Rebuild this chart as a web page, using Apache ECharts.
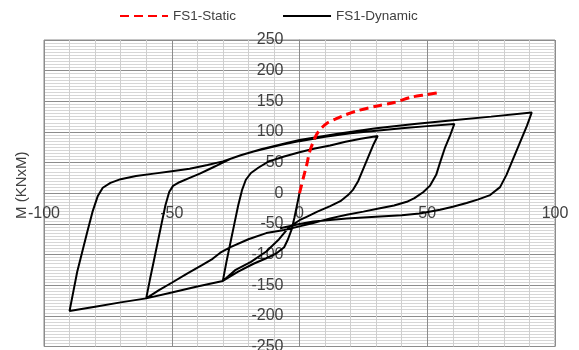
<!DOCTYPE html>
<html>
<head>
<meta charset="utf-8">
<script src="https://cdn.jsdelivr.net/npm/echarts@6/dist/echarts.min.js"></script>
<style>html,body{margin:0;padding:0;background:#fff;}#c{width:579px;height:350px;}</style>
</head>
<body>
<div id="c"></div>
<script>
const xTicks = [-100, -50, 0, 50, 100];
const yTicks = [-250, -200, -150, -100, -50, 0, 50, 100, 150, 200, 250];
const seriesNames = ['FS1-Static', 'FS1-Dynamic'];

const staticX = [0, 1.5, 2.8, 4, 5.5, 7, 9, 11, 14, 18, 23, 30, 37, 44, 50, 55.5];
const staticY = [0, 25, 46, 68, 85, 98, 108, 115, 121, 128, 135, 142, 148, 157, 161, 165];

const dynX = [
  0, -1, -2, -3, -4.5, -6, -9, -13, -18, -24, -30,
  -28.5, -27, -25.5, -24, -22.5, -21, -19, -16, -12, -6, 0, 6, 12, 18, 24, 30.6,
  29, 27, 25, 23, 21, 19, 16, 12, 7, 3, 0, -4, -8, -13, -19, -25, -30, -40, -50, -60,
  -58.5, -57, -55.5, -54, -52.5, -51, -49.5, -47, -43, -39, -35, -31, -27, -23, -18, -12, -7, 0, 10, 20, 30, 40, 50, 60.6,
  59, 57, 55, 53.5, 51, 48.5, 45, 42, 37, 31, 25, 18.5, 12, 5, 0, -6, -13, -20, -27, -31, -34, -38, -44, -50, -55, -60, -70, -80, -90,
  -88.5, -87, -85, -83, -81, -79, -77, -74, -70, -64, -57, -50, -43, -36, -30, -23, -15, -7, 0, 15, 30, 45, 60, 75, 90.9,
  89, 87, 85, 83, 81, 78.5, 74.6, 70, 65.4, 60, 55, 47, 40, 31.5, 18.5, 5.4, 0, -7.6
];
const dynY = [
  0, -20, -40, -58, -75, -88, -98, -106, -115, -128, -143,
  -110, -80, -50, -20, 5, 22, 33, 42, 52, 60, 67, 73, 78, 84, 89, 93.5,
  80, 60, 40, 20, 6, -3, -13, -21, -30, -38, -44, -55, -75, -95, -112, -125, -143, -152, -162, -171.5,
  -140, -110, -80, -50, -20, 2, 12, 18, 25, 32, 40, 48, 56, 62, 68, 74, 79, 85, 92, 98, 102, 106, 109.5, 113,
  95, 75, 50, 30, 12, 2, -8, -14, -20, -25, -30, -35, -41, -49, -54, -60, -65, -75, -88, -97, -107, -117, -131, -146, -158, -171.5, -178, -185, -192,
  -160, -128, -95, -62, -30, -5, 9, 17, 23, 28, 32, 36, 40, 46, 52, 62, 72, 80, 87, 97, 106, 113, 119, 125, 131.7,
  110, 90, 70, 50, 30, 10, -3, -10, -16, -22, -27, -33, -36, -38, -41, -46, -50, -57
];

function pairs(xs, ys) { return xs.map((x, i) => [x, ys[i]]); }

const GRID = {left: 44, right: 24, top: 40, bottom: 3.5};
const W = 579, H = 350;
const plotW = W - GRID.left - GRID.right;
const plotH = H - GRID.top - GRID.bottom;
// shift axes so they sit on the zero lines
const xAxisOffset = -plotH / 2;
const yAxisOffset = -plotW / 2;

const chart = echarts.init(document.getElementById('c'), null, {renderer: 'canvas'});
const labelFont = {fontFamily: 'Liberation Sans, Arial, sans-serif', fontSize: 16, color: '#404040'};
chart.setOption({
  animation: false,
  backgroundColor: '#fff',
  legend: {
    data: seriesNames,
    top: 4,
    left: 114,
    itemWidth: 48,
    itemHeight: 10,
    itemGap: 46,
    itemStyle: {opacity: 0},
    textStyle: {fontFamily: 'Liberation Sans, Arial, sans-serif', fontSize: 13.5, color: '#404040'}
  },
  grid: Object.assign({show: true, borderColor: '#8c8c8c', borderWidth: 1, containLabel: false, outerBoundsMode: 'none'}, GRID),
  xAxis: {
    type: 'value', min: -100, max: 100, interval: 50, position: 'bottom', offset: xAxisOffset,
    axisLine: {onZero: false, lineStyle: {color: '#8c8c8c'}},
    axisTick: {show: false},
    axisLabel: Object.assign({margin: 12}, labelFont),
    splitLine: {show: true, lineStyle: {color: '#8c8c8c', width: 1}},
    minorTick: {show: false, splitNumber: 5},
    minorSplitLine: {show: true, lineStyle: {color: '#cfcfcf', width: 1}}
  },
  yAxis: {
    type: 'value', min: -250, max: 250, interval: 50, position: 'left', offset: yAxisOffset,
    name: 'M (KNxM)', nameLocation: 'middle', nameGap: 270, nameRotate: 90,
    nameTextStyle: {fontFamily: 'Liberation Sans, Arial, sans-serif', fontSize: 15, color: '#404040', padding: [0, 0, 0, 16]},
    axisLine: {onZero: false, lineStyle: {color: '#8c8c8c'}},
    axisTick: {show: false},
    axisLabel: Object.assign({margin: 16}, labelFont),
    splitLine: {show: true, lineStyle: {color: '#8c8c8c', width: 1}},
    minorTick: {show: false, splitNumber: 10},
    minorSplitLine: {show: true, lineStyle: {color: '#d6d6d6', width: 1}}
  },
  series: [
    {
      name: seriesNames[0], type: 'line', data: pairs(staticX, staticY),
      showSymbol: false, symbol: 'none', smooth: 0.3, z: 3,
      lineStyle: {color: '#ff0000', width: 3, type: [9, 5]},
      itemStyle: {color: '#ff0000'}
    },
    {
      name: seriesNames[1], type: 'line', data: pairs(dynX, dynY),
      showSymbol: false, symbol: 'none', smooth: false, z: 2,
      lineStyle: {color: '#000000', width: 2},
      itemStyle: {color: '#000000'}
    }
  ]
});
</script>
</body>
</html>
